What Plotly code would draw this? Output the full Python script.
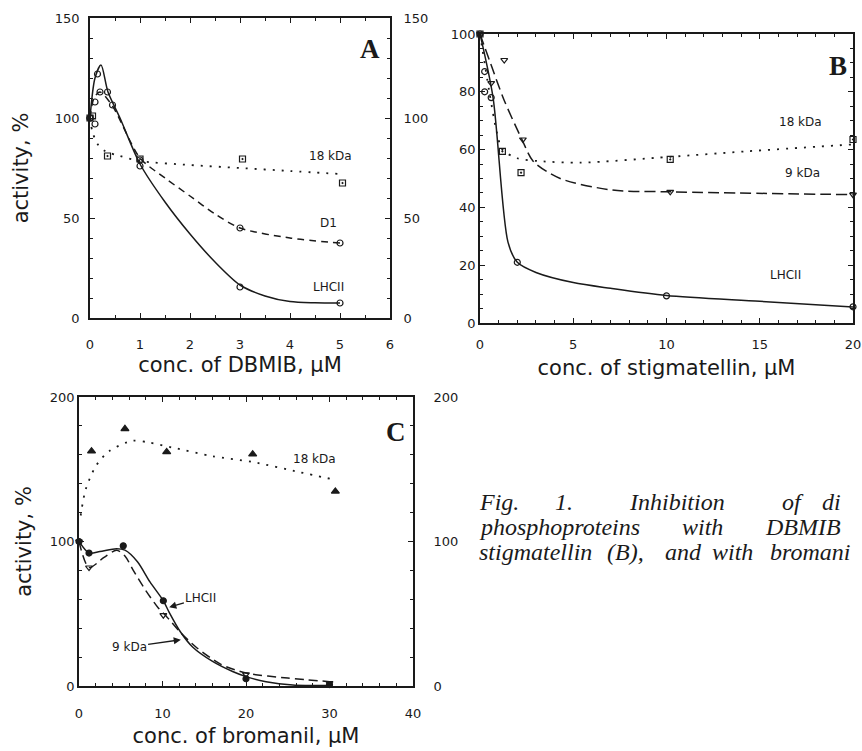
import plotly.graph_objects as go

W, H = 862, 751
def px(x): return x / W
def py(y): return 1 - y / H

INK = "#1a1a1a"
SANS = "DejaVu Sans, Arial, sans-serif"
SERIF = "Liberation Serif, Times New Roman, serif"

# ---------------- Panel A : DBMIB ----------------
a_lhcii_x = [0, 0.1, 0.15, 0.35, 1.0, 3.0, 5.0]
a_lhcii_y = [100, 108, 122, 113, 76, 15.5, 7.5]
a_lhcii_cx = [0, 0.1, 0.22, 0.36, 0.6, 1.0, 1.5, 2.0, 2.5, 3.0, 3.5, 4.0, 4.5, 5.0]
a_lhcii_cy = [100, 120, 126.5, 113, 100, 77, 58, 42, 28, 16.5, 11, 8.2, 7.6, 7.5]

a_d1_x = [0, 0.1, 0.2, 0.45, 1.0, 3.0, 5.0]
a_d1_y = [100, 97, 113, 106.5, 79, 45, 37.5]
a_d1_cx = [0, 0.08, 0.2, 0.45, 1.0, 1.5, 2.0, 2.5, 3.0, 4.0, 5.0]
a_d1_cy = [100, 110, 113, 106, 80, 70, 61, 52, 45, 40, 37.5]

a_18_x = [0, 0.05, 0.35, 1.0, 3.05, 5.05]
a_18_y = [100, 101, 81, 79.5, 79.5, 67.5]
a_18_cx = [0, 0.05, 0.15, 0.3, 0.6, 1.0, 2.0, 3.0, 4.0, 5.0]
a_18_cy = [100, 93, 87, 83.5, 81, 78.5, 76.5, 75, 73.5, 72]

# ---------------- Panel B : stigmatellin ----------------
b_lhcii_x = [0, 0.25, 0.25, 0.6, 2.0, 10.0, 20.0]
b_lhcii_y = [100, 87, 80, 78, 21, 9.4, 5.6]
b_lhcii_cx = [0, 0.7, 1.5, 2.0, 3.0, 5.0, 7.0, 10.0, 15.0, 20.0]
b_lhcii_cy = [100, 78, 28, 21, 17.5, 14, 12, 9.5, 7.5, 5.5]

b_9_x = [0, 0.6, 1.3, 2.3, 10.2, 20.0]
b_9_y = [100, 83, 91, 63.5, 45.4, 44.4]
b_9_cx = [0, 0.5, 1.3, 2.25, 2.85, 4.3, 7.1, 10.2, 20.0]
b_9_cy = [100, 91, 77, 63.5, 56, 50, 46, 45.4, 44.4]

b_18_x = [0, 1.2, 2.2, 10.2, 20.0]
b_18_y = [100, 59.4, 52, 56.6, 63.5]
b_18_cx = [0, 0.5, 0.9, 1.2, 2.0, 3.2, 5.4, 10.2, 14.3, 20.0]
b_18_cy = [100, 80, 66, 60, 57, 56, 55.5, 57.5, 59.4, 61.8]

# ---------------- Panel C : bromanil ----------------
c_lhcii_x = [0, 1.2, 5.3, 10.1, 20.0, 30.0]
c_lhcii_y = [100, 92, 97, 59, 5, 1]
c_lhcii_cx = [0, 1.2, 2.5, 4.5, 5.5, 7.0, 8.5, 10.1, 10.8, 12.2, 13.6, 16.0, 18.4, 20.0, 22.4, 25.6, 30.0]
c_lhcii_cy = [100, 92, 93, 95, 94, 86, 72, 59, 51, 37, 27, 17, 10, 6.5, 3, 0.7, 0.3]

c_9_x = [0, 1.2, 10.1, 20.0, 30.0]
c_9_y = [100, 82, 49, 8, 2]
c_9_cx = [0, 1.2, 3.0, 4.5, 5.5, 6.5, 8.0, 9.5, 10.5, 12.0, 14.0, 17.0, 20.0, 25.0, 30.0]
c_9_cy = [100, 82, 89, 94, 90, 80, 66, 54, 48, 38, 27, 15, 9, 5.5, 3]

c_18_x = [1.5, 5.5, 10.5, 20.8, 30.7]
c_18_y = [162.5, 178, 162, 160.4, 134.7]
c_18_cx = [0.2, 0.8, 2.0, 3.6, 6.4, 8.4, 11.2, 16.0, 20.8, 26.4, 30.4]
c_18_cy = [118, 136, 152, 162.5, 169.7, 168.5, 165, 159, 155, 148, 143]

x_ticks_a = [0, 1, 2, 3, 4, 5, 6]
y_ticks_a = [0, 50, 100, 150]
x_ticks_b = [0, 5, 10, 15, 20]
y_ticks_b = [0, 20, 40, 60, 80, 100]
x_ticks_c = [0, 10, 20, 30, 40]
y_ticks_c = [0, 100, 200]

fig = go.Figure()

def curve(x, y, xa, ya, dash, width=1.5, shape="spline"):
    fig.add_trace(go.Scatter(x=x, y=y, xaxis=xa, yaxis=ya, mode="lines",
                             line=dict(color=INK, width=width, dash=dash, shape=shape, smoothing=0.8),
                             showlegend=False, hoverinfo="skip", cliponaxis=False))

def pts(x, y, xa, ya, symbol, size=6):
    fig.add_trace(go.Scatter(x=x, y=y, xaxis=xa, yaxis=ya, mode="markers",
                             marker=dict(symbol=symbol, size=size, color=INK,
                                         line=dict(color=INK, width=1.2)),
                             showlegend=False, hoverinfo="skip", cliponaxis=False))

DOT = "2px,7px"
# Panel A
curve(a_lhcii_cx, a_lhcii_cy, "x", "y", "solid")
curve(a_d1_cx, a_d1_cy, "x", "y", "7px,5px")
curve(a_18_cx, a_18_cy, "x", "y", DOT, width=1.8)
pts(a_lhcii_x, a_lhcii_y, "x", "y", "circle-open")
pts(a_d1_x, a_d1_y, "x", "y", "circle-open")
pts(a_18_x, a_18_y, "x", "y", "square-open-dot")
fig.add_trace(go.Scatter(x=[0], y=[0], xaxis="x", yaxis="y2", mode="markers",
                         marker=dict(opacity=0), showlegend=False, hoverinfo="skip"))

# Panel B
curve(b_lhcii_cx, b_lhcii_cy, "x2", "y3", "solid")
curve(b_9_cx, b_9_cy, "x2", "y3", "11px,5px")
curve(b_18_cx, b_18_cy, "x2", "y3", DOT, width=1.8)
pts(b_lhcii_x, b_lhcii_y, "x2", "y3", "circle-open")
pts(b_9_x, b_9_y, "x2", "y3", "triangle-down-open")
pts(b_18_x, b_18_y, "x2", "y3", "square-open-dot")

# Panel C
curve(c_lhcii_cx, c_lhcii_cy, "x3", "y5", "solid")
curve(c_9_cx, c_9_cy, "x3", "y5", "9px,5px")
curve(c_18_cx, c_18_cy, "x3", "y5", DOT, width=1.8)
pts(c_lhcii_x, c_lhcii_y, "x3", "y5", "circle")
pts(c_9_x, c_9_y, "x3", "y5", "triangle-down-open")
pts(c_18_x, c_18_y, "x3", "y5", "triangle-up", size=7)
fig.add_trace(go.Scatter(x=[0], y=[0], xaxis="x3", yaxis="y6", mode="markers",
                         marker=dict(opacity=0), showlegend=False, hoverinfo="skip"))

tickfont = dict(family=SANS, size=13, color=INK)
titlefont = dict(family=SANS, size=21, color=INK)

def base(domain, rng, ticks, dminor, anchor, standoff_lbl):
    return dict(domain=domain, range=rng, anchor=anchor, tickvals=ticks,
                showline=True, linecolor=INK, linewidth=1.6,
                ticks="inside", ticklen=5, tickwidth=1.2, tickcolor=INK,
                minor=dict(ticks="inside", ticklen=3, dtick=dminor, tickcolor=INK),
                showgrid=False, zeroline=False, tickfont=tickfont,
                ticklabelstandoff=standoff_lbl, automargin=False)

def xax(domain, rng, ticks, dminor, anchor, title, standoff, lbl):
    d = base(domain, rng, ticks, dminor, anchor, lbl)
    d["mirror"] = "ticks"
    d["title"] = dict(text=title, font=titlefont, standoff=standoff)
    return d

def yax(domain, rng, ticks, dminor, anchor, lbl, title=None, mirror=False, standoff=10):
    d = base(domain, rng, ticks, dminor, anchor, lbl)
    d["mirror"] = mirror
    if title:
        d["title"] = dict(text=title, font=titlefont, standoff=standoff)
    return d

def yright(domain, rng, ticks, dminor, anchor, overlay, lbl):
    d = base(domain, rng, ticks, dminor, anchor, lbl)
    d.update(side="right", overlaying=overlay)
    return d

A_dom_x = [px(90), px(390)]
A_dom_y = [py(318), py(18)]
B_dom_x = [px(480), px(853)]
B_dom_y = [py(323), py(34)]
C_dom_x = [px(79), px(413)]
C_dom_y = [py(686), py(397)]

ann = []
def lab(text, x, y, xref, yref, size=12, family=SANS, xanchor="center", **kw):
    ann.append(dict(text=text, x=x, y=y, xref=xref, yref=yref, showarrow=False,
                    font=dict(family=family, size=size, color=INK), xanchor=xanchor, **kw))

# Panel A labels
lab("18 kDa", 4.8, 81, "x", "y")
lab("D1", 4.77, 47.5, "x", "y")
lab("LHCII", 4.77, 15.5, "x", "y")
lab("<b>A</b>", 5.6, 134.5, "x", "y", size=27, family=SERIF)
# Panel B labels
lab("18 kDa", 17.2, 69.5, "x2", "y3")
lab("9 kDa", 17.3, 52, "x2", "y3")
lab("LHCII", 16.4, 16.7, "x2", "y3")
lab("<b>B</b>", 19.2, 89, "x2", "y3", size=27, family=SERIF)
# Panel C labels
lab("18 kDa", 28.2, 157, "x3", "y5")
lab("<b>C</b>", 38.0, 176, "x3", "y5", size=27, family=SERIF)
ann.append(dict(text="LHCII", x=10.8, y=54.5, xref="x3", yref="y5", ax=14.6, ay=61,
                axref="x3", ayref="y5", showarrow=True, arrowhead=2, arrowsize=1.1,
                arrowwidth=1.3, arrowcolor=INK, standoff=0, startstandoff=0,
                font=dict(family=SANS, size=12, color=INK)))
ann.append(dict(text="9 kDa", x=12.2, y=32, xref="x3", yref="y5", ax=6.0, ay=27,
                axref="x3", ayref="y5", showarrow=True, arrowhead=2, arrowsize=1.1,
                arrowwidth=1.3, arrowcolor=INK, standoff=0, startstandoff=0,
                font=dict(family=SANS, size=12, color=INK)))

# Caption (justified, as far as it is visible)
cap_lines = [
    (502, [("Fig.", 477), ("1.", 553), ("Inhibition", 627), ("of", 780), ("di", 820)]),
    (527, [("phosphoproteins", 477), ("with", 680), ("DBMIB", 763)]),
    (552, [("stigmatellin", 477), ("(B),", 605), ("and", 663), ("with", 710), ("bromani", 768)]),
]
for yy, words in cap_lines:
    for w, xx in words:
        lab("<i>" + w + "</i>", px(xx), py(yy), "paper", "paper", size=24,
            family=SERIF, xanchor="left", yanchor="middle")

fig.update_layout(
    width=W, height=H, margin=dict(l=0, r=0, t=0, b=0),
    paper_bgcolor="white", plot_bgcolor="white", showlegend=False,
    xaxis=xax(A_dom_x, [0, 6], x_ticks_a, 0.5, "y", "conc. of DBMIB, μM", 6, 14),
    yaxis=yax(A_dom_y, [0, 150], y_ticks_a, 10, "x", 6, "activity, %", standoff=20),
    yaxis2=yright(A_dom_y, [0, 150], y_ticks_a, 10, "x", "y", 9),
    xaxis2=xax(B_dom_x, [0, 20], x_ticks_b, 1, "y3", "conc. of stigmatellin, μM", 9, 9),
    yaxis3=yax(B_dom_y, [0, 100], y_ticks_b, 5, "x2", 0, mirror="ticks"),
    xaxis3=xax(C_dom_x, [0, 40], x_ticks_c, 2, "y5", "conc. of bromanil, μM", 8, 15),
    yaxis5=yax(C_dom_y, [0, 200], y_ticks_c, 20, "x3", 0, "activity, %", standoff=12),
    yaxis6=yright(C_dom_y, [0, 200], y_ticks_c, 20, "x3", "y5", 16),
    annotations=ann,
)

fig.write_html("out.html", config={"displayModeBar": False},
               post_script="document.body.style.margin='0';")
